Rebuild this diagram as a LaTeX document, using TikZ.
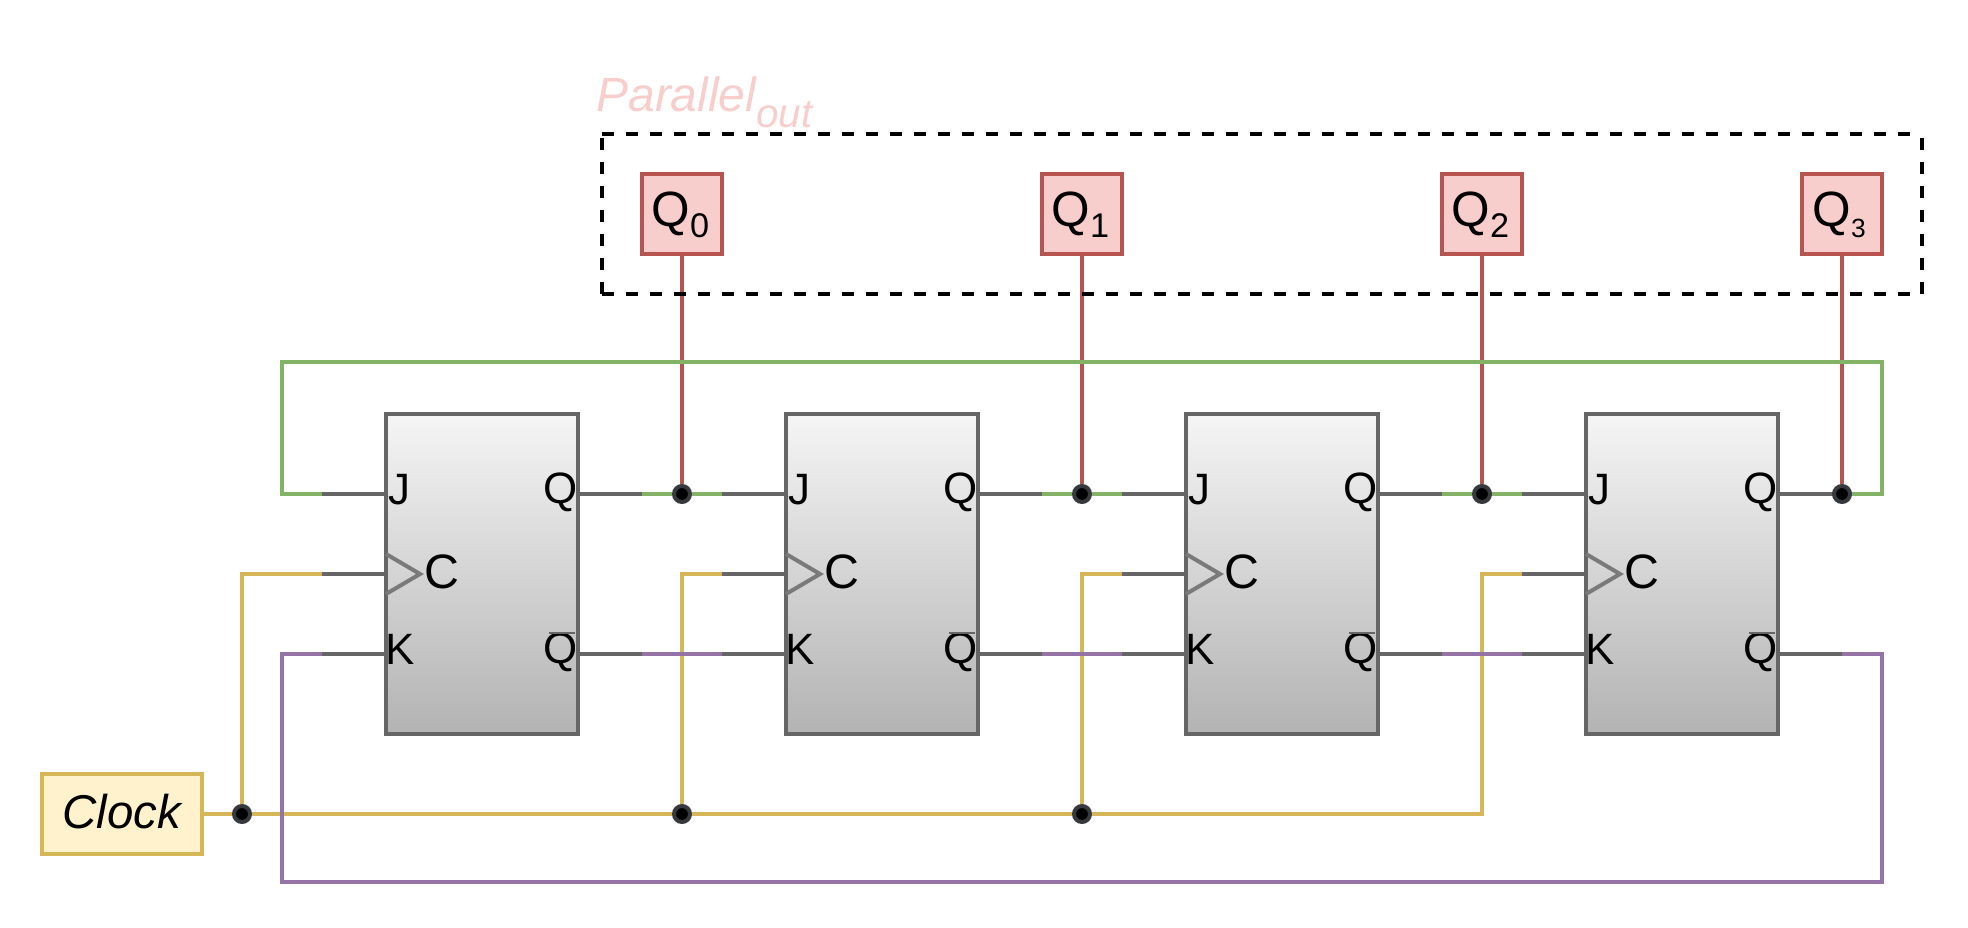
\documentclass[tikz,border=0pt]{standalone}
\usepackage{fontspec}
\setmainfont{Liberation Sans}
\usepackage{tikz}
\usetikzlibrary{positioning,calc}
\definecolor{FFStroke}{HTML}{666666}
\definecolor{FFTop}{HTML}{F5F5F5}
\definecolor{FFBottom}{HTML}{B3B3B3}
\definecolor{FFClockMark}{HTML}{7A7A7A}
\definecolor{WireGreen}{HTML}{82B366}
\definecolor{WireRed}{HTML}{B85450}
\definecolor{WireYellow}{HTML}{D6B656}
\definecolor{WirePurple}{HTML}{9673A6}
\definecolor{OutFill}{HTML}{F8CECC}
\definecolor{ClockFill}{HTML}{FFF2CC}
\definecolor{DotRing}{HTML}{36393D}
\tikzset{
  wire/.style={line width=0.08cm,line join=miter},
  wiregray/.style={wire,FFStroke},
  wiregreen/.style={wire,WireGreen},
  wirered/.style={wire,WireRed},
  wireyellow/.style={wire,WireYellow},
  wirepurple/.style={wire,WirePurple},
  ffbox/.style={draw=FFStroke,line width=0.08cm,top color=FFTop,bottom color=FFBottom,
                minimum width=3.84cm,minimum height=6.4cm,inner sep=0pt,outer sep=0pt},
  pinlabel/.style={text=black,inner sep=0pt,font=\fontsize{25}{25}\selectfont},
  clocklabel/.style={pinlabel,font=\fontsize{27.5}{27.5}\selectfont},
  outbox/.style={draw=WireRed,fill=OutFill,line width=0.08cm,minimum width=1.6cm,
                 minimum height=1.6cm,inner sep=0pt,outer sep=0.04cm,
                 text width=1.6cm,align=left,text height=0.52cm,text depth=0cm,
                 font=\fontsize{28.2}{28.2}\selectfont},
  clockbox/.style={draw=WireYellow,fill=ClockFill,line width=0.08cm,minimum width=3.2cm,
                   minimum height=1.6cm,inner sep=0pt,outer sep=0.04cm,
                   text height=0.58cm,text depth=0cm,
                   font=\fontsize{27}{27}\selectfont\itshape},
  groupbox/.style={minimum width=26.4cm,minimum height=3.2cm,inner sep=0pt,outer sep=0pt},
  groupline/.style={draw=black,line width=0.08cm,dash pattern=on 0.24cm off 0.24cm},
  groupside/.style={groupline,dash phase=0.40cm},
  grouplabel/.style={text=OutFill,inner sep=0pt,font=\fontsize{27.3}{27.3}\selectfont\itshape},
  junction/.style={circle,draw=DotRing,fill=black,line width=0.08cm,minimum size=0.32cm,
                   inner sep=0pt,outer sep=0.04cm},
}
% #1 size, #2 text
\newcommand{\subfig}[2]{\raisebox{-0.22cm}{\fontsize{#1}{#1}\selectfont #2}}
% #1 index, #2 centre x
\newcommand{\flipflop}[2]{%
  \begin{scope}[shift={(#2,0)}]
    \node[ffbox] (ff#1) at (0,574) {};
    \coordinate (J#1) at (-96,494);
    \coordinate (Jw#1) at (-160,494);
    \coordinate (C#1) at (-96,574);
    \coordinate (Cw#1) at (-160,574);
    \coordinate (K#1) at (-96,654);
    \coordinate (Kw#1) at (-160,654);
    \coordinate (Q#1) at (96,494);
    \coordinate (Qw#1) at (160,494);
    \coordinate (N#1) at (96,654);
    \coordinate (Nw#1) at (160,654);
    \draw[wiregray] (Jw#1)--(J#1);
    \draw[wiregray] (Cw#1)--(C#1);
    \draw[wiregray] (Kw#1)--(K#1);
    \draw[wiregray] (Q#1)--(Qw#1);
    \draw[wiregray] (N#1)--(Nw#1);
    \draw[wire,FFClockMark] (-96,554)--(-62,574)--(-96,594);
    \node[pinlabel,anchor=base west] (lblJ#1) at (-94,505) {J};
    \node[clocklabel,anchor=base west] (lblC#1) at (-57.5,589) {C};
    \node[pinlabel,anchor=base west] (lblK#1) at (-97,665) {K};
    \node[pinlabel,anchor=base east] (lblQ#1) at (96,504) {Q};
    \node[pinlabel,anchor=base east] (lblN#1) at (96,664) {Q};
    \draw[FFStroke,line width=0.05cm] (67,633)--(93,633);
  \end{scope}%
}

\begin{document}
\begin{tikzpicture}[x=0.02cm,y=-0.02cm]
    \useasboundingbox (0,0) rectangle (1968,928);

    \node[grouplabel,anchor=base west] (grouptext) at (596,112) {Parallel\raisebox{-0.32cm}{\fontsize{23}{23}\selectfont out}};

    \flipflop{0}{482}
    \flipflop{1}{882}
    \flipflop{2}{1282}
    \flipflop{3}{1682}

    \node[outbox] (out0) at (682,214) {\hspace*{0.19cm}Q\subfig{19.5}{0}};
    \node[outbox] (out1) at (1082,214) {\hspace*{0.19cm}Q\subfig{19.5}{1}};
    \node[outbox] (out2) at (1482,214) {\hspace*{0.19cm}Q\subfig{19.5}{2}};
    \node[outbox] (out3) at (1842,214) {\hspace*{0.21cm}Q\subfig{15}{3}};
    \node[clockbox] (clock) at (122,814) {Clock};

    \node[junction] (dot0) at (682,494) {};
    \node[junction] (dot1) at (1082,494) {};
    \node[junction] (dot2) at (1482,494) {};
    \node[junction] (dot3) at (1842,494) {};
    \node[junction] (tap0) at (242,814) {};
    \node[junction] (tap1) at (682,814) {};
    \node[junction] (tap2) at (1082,814) {};

    \coordinate (tap3) at (1482,814);
    \coordinate (fbq) at (1882,494);
    \coordinate (fbqtop) at (1882,362);
    \coordinate (fbjtop) at (282,362);
    \coordinate (fbn) at (1842,654);
    \coordinate (fbnout) at (1882,654);
    \coordinate (fbnbot) at (1882,882);
    \coordinate (fbkbot) at (282,882);

    % red outputs
    \draw[wirered] (out0)--(dot0);
    \draw[wirered] (out1)--(dot1);
    \draw[wirered] (out2)--(dot2);
    \draw[wirered] (out3)--(dot3);

    % yellow clock lines
    \draw[wireyellow] (clock)--(tap0);
    \draw[wireyellow] (tap0)--(tap1);
    \draw[wireyellow] (tap1)--(tap2);
    \draw[wireyellow] (tap2)--(tap3)|-(Cw3);
    \draw[wireyellow] (tap0)|-(Cw0);
    \draw[wireyellow] (tap1)|-(Cw1);
    \draw[wireyellow] (tap2)|-(Cw2);

    % green J lines
    \draw[wiregreen] (Qw0)--(dot0);
    \draw[wiregreen] (dot0)--(Jw1);
    \draw[wiregreen] (Qw1)--(dot1);
    \draw[wiregreen] (dot1)--(Jw2);
    \draw[wiregreen] (Qw2)--(dot2);
    \draw[wiregreen] (dot2)--(Jw3);
    \draw[wiregreen] (dot3)--(fbq)--(fbqtop)--(fbjtop)|-(Jw0);

    % purple K lines
    \draw[wirepurple] (Nw0)--(Kw1);
    \draw[wirepurple] (Nw1)--(Kw2);
    \draw[wirepurple] (Nw2)--(Kw3);
    \draw[wirepurple] (fbn)--(fbnout)--(fbnbot)--(fbkbot)|-(Kw0);

    % dashed output group
    \node[groupbox] (group) at (1262,214) {};
    \draw[groupline] (group.north west)--(group.north east);
    \draw[groupline] (group.south west)--(group.south east);
    \draw[groupside] (group.north west)--(group.south west);
    \draw[groupside] (group.north east)--(group.south east);
\end{tikzpicture}
\end{document}
